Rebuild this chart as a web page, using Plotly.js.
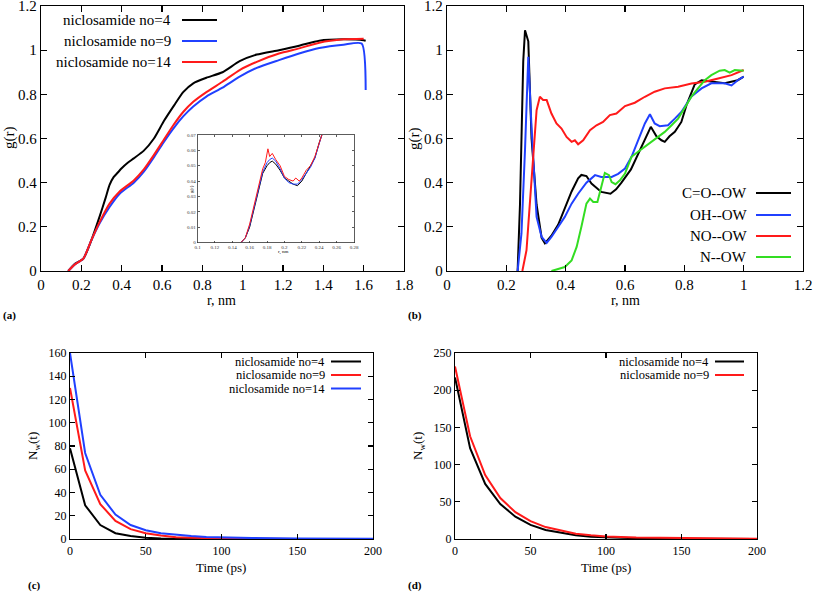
<!DOCTYPE html>
<html>
<head>
<meta charset="utf-8">
<script src="https://cdn.plot.ly/plotly-3.0.1.min.js"></script>
<style>html,body{margin:0;padding:0;background:#fff}#chart{width:815px;height:593px}</style>
</head>
<body>
<div id="chart"></div>
<script>
// ---------- Panel (a): g(r) for niclosamide clusters ----------
const aNames = ["niclosamide no=4", "niclosamide no=9", "niclosamide no=14"];
const aColors = ["#000000", "#2040ff", "#ff1a1a"];
const aR4  = [0.135,0.168,0.21,0.25,0.29,0.32,0.34,0.36,0.38,0.40,0.43,0.46,0.51,0.56,0.61,0.66,0.705,0.755,0.82,0.9,0.985,1.07,1.18,1.28,1.38,1.5,1.6,1.61];
const aG4  = [0,0.033,0.056,0.14,0.245,0.33,0.39,0.425,0.445,0.465,0.49,0.51,0.545,0.60,0.68,0.75,0.81,0.85,0.875,0.90,0.95,0.98,1.0,1.02,1.043,1.049,1.045,1.043];
const aR9  = [0.135,0.168,0.21,0.25,0.29,0.34,0.39,0.46,0.51,0.556,0.606,0.656,0.705,0.755,0.82,0.9,0.985,1.07,1.18,1.28,1.38,1.5,1.59,1.61];
const aG9  = [0,0.03,0.056,0.14,0.215,0.29,0.35,0.40,0.45,0.51,0.58,0.645,0.70,0.745,0.79,0.83,0.88,0.92,0.955,0.985,1.01,1.025,1.03,0.82];
const aR14 = [0.135,0.168,0.21,0.25,0.29,0.34,0.39,0.46,0.51,0.556,0.606,0.656,0.705,0.755,0.82,0.9,0.985,1.07,1.18,1.28,1.38,1.5,1.6];
const aG14 = [0,0.03,0.056,0.14,0.22,0.305,0.36,0.41,0.46,0.52,0.59,0.66,0.72,0.766,0.81,0.857,0.91,0.947,0.985,1.008,1.034,1.049,1.052];

// ---------- Inset of panel (a) ----------
const inR4  = [0.15,0.155,0.16,0.165,0.17,0.175,0.18,0.183,0.186,0.19,0.195,0.2,0.205,0.21,0.215,0.22,0.225,0.23,0.235,0.24,0.243];
const inG4  = [0,0.003,0.01,0.022,0.035,0.045,0.05,0.052,0.053,0.051,0.047,0.042,0.04,0.038,0.037,0.04,0.045,0.05,0.055,0.065,0.07];
const inR9  = [0.15,0.155,0.16,0.165,0.17,0.175,0.18,0.183,0.186,0.19,0.195,0.2,0.205,0.21,0.215,0.22,0.225,0.23,0.235,0.24,0.243];
const inG9  = [0,0.003,0.011,0.023,0.036,0.046,0.052,0.054,0.055,0.053,0.048,0.042,0.039,0.038,0.038,0.041,0.045,0.049,0.055,0.064,0.07];
const inR14 = [0.15,0.155,0.16,0.165,0.17,0.175,0.178,0.181,0.183,0.186,0.19,0.195,0.2,0.205,0.21,0.213,0.217,0.22,0.225,0.23,0.235,0.24,0.243];
const inG14 = [0,0.003,0.012,0.024,0.037,0.048,0.052,0.061,0.056,0.058,0.054,0.05,0.043,0.041,0.04,0.042,0.04,0.042,0.047,0.05,0.056,0.065,0.07];

// ---------- Panel (b): site g(r) ----------
const bNames = ["C=O--OW", "OH--OW", "NO--OW", "N--OW"];
const bColors = ["#000000", "#2040ff", "#ff1a1a", "#33dd22"];
const bR_CO = [0.238,0.246,0.257,0.263,0.274,0.285,0.302,0.319,0.33,0.352,0.375,0.397,0.42,0.442,0.453,0.47,0.487,0.52,0.551,0.57,0.588,0.62,0.644,0.672,0.687,0.706,0.723,0.734,0.75,0.768,0.79,0.807,0.835,0.858,0.89,0.936,0.98,1.0];
const bG_CO = [0,0.3,0.95,1.09,1.04,0.6,0.3,0.15,0.125,0.16,0.21,0.28,0.36,0.42,0.435,0.43,0.396,0.358,0.35,0.37,0.40,0.46,0.53,0.61,0.653,0.61,0.592,0.585,0.61,0.63,0.675,0.75,0.845,0.864,0.857,0.85,0.864,0.88];
const bR_OH = [0.238,0.251,0.263,0.274,0.285,0.302,0.319,0.336,0.352,0.375,0.397,0.42,0.442,0.47,0.499,0.52,0.555,0.577,0.6,0.622,0.644,0.667,0.684,0.7,0.717,0.745,0.768,0.79,0.824,0.858,0.891,0.936,0.959,0.98,1.0];
const bG_OH = [0,0.17,0.55,0.97,0.65,0.245,0.154,0.127,0.154,0.2,0.245,0.305,0.35,0.40,0.434,0.426,0.426,0.44,0.464,0.517,0.59,0.668,0.71,0.668,0.656,0.66,0.69,0.72,0.79,0.827,0.85,0.85,0.84,0.864,0.88];
const bR_NO = [0.254,0.268,0.28,0.291,0.302,0.313,0.324,0.336,0.352,0.369,0.386,0.403,0.42,0.431,0.442,0.459,0.482,0.504,0.526,0.549,0.571,0.6,0.633,0.667,0.7,0.734,0.779,0.824,0.869,0.914,0.959,1.0];
const bG_NO = [0,0.094,0.32,0.547,0.728,0.789,0.774,0.774,0.713,0.668,0.645,0.607,0.585,0.592,0.574,0.592,0.638,0.66,0.675,0.706,0.713,0.747,0.762,0.789,0.812,0.827,0.834,0.849,0.857,0.872,0.887,0.91];
const bR_N  = [0.352,0.397,0.42,0.437,0.453,0.47,0.482,0.493,0.507,0.521,0.532,0.546,0.555,0.568,0.583,0.6,0.622,0.644,0.667,0.689,0.712,0.734,0.757,0.779,0.8,0.824,0.846,0.869,0.891,0.919,0.936,0.953,0.97,1.0];
const bG_N  = [0,0.018,0.048,0.109,0.2,0.305,0.328,0.313,0.313,0.38,0.444,0.434,0.403,0.393,0.411,0.441,0.517,0.54,0.562,0.585,0.607,0.63,0.66,0.69,0.736,0.79,0.827,0.864,0.887,0.907,0.91,0.898,0.91,0.907];

// ---------- Panel (c): N_w(t) ----------
const cNames = ["niclosamide no=4", "niclosamide no=9", "niclosamide no=14"];
const cColors = ["#000000", "#ff1a1a", "#2040ff"];
const cT  = [0,10,20,30,40,50,60,70,80,90,100,120,150,200];
const cN4  = [78,29,12,5,2.5,1,0.5,0.2,0.1,0,0,0,0,0];
const cN9  = [130,59,30,15.5,8.5,5,3,1.5,1,0.7,0.5,0.3,0.1,0];
const cN14 = [160,74,38,21,12,7.5,5,3.5,2.5,1.8,1.3,0.8,0.4,0.2];

// ---------- Panel (d): N_w(t) ----------
const dNames = ["niclosamide no=4", "niclosamide no=9"];
const dColors = ["#000000", "#ff1a1a"];
const dT  = [0,10,20,30,40,50,60,70,80,90,100,120,150,200];
const dN4 = [217,122,74,47,30,19,12,8,5,3,2,1,0.5,0];
const dN9 = [232,138,86,55,36,24,16,11,7,5,3.5,2,1,0.3];

// ---------- helpers ----------
const W = 815, H = 593;
const px = x => x / W;
const py = y => 1 - y / H;
const SERIF = "Liberation Serif";

function ax(extra, fs, tl) {
  return Object.assign({
    showline: true, linecolor: "#000", linewidth: 1.2, mirror: "ticks",
    ticks: "inside", ticklen: tl, tickwidth: 1.2, tickcolor: "#000",
    showgrid: false, zeroline: false, fixedrange: true, ticklabeloverflow: "allow",
    tickfont: {family: SERIF, size: fs, color: "#000"}
  }, extra);
}

const traces = [];
function line(x, y, color, xa, ya, w, shape) {
  traces.push({x: x, y: y, type: "scatter", mode: "lines", xaxis: xa, yaxis: ya,
    line: {color: color, width: w, shape: shape || "linear", smoothing: 0.6},
    showlegend: false, hoverinfo: "skip"});
}
line(aR4, aG4, aColors[0], "x", "y", 2, "spline");
line(aR9, aG9, aColors[1], "x", "y", 2, "spline");
line(aR14, aG14, aColors[2], "x", "y", 2, "spline");
line(inR4, inG4, aColors[0], "x5", "y5", 1);
line(inR9, inG9, aColors[1], "x5", "y5", 1);
line(inR14, inG14, aColors[2], "x5", "y5", 1);
line(bR_CO, bG_CO, bColors[0], "x2", "y2", 2);
line(bR_OH, bG_OH, bColors[1], "x2", "y2", 2);
line(bR_NO, bG_NO, bColors[2], "x2", "y2", 2);
line(bR_N,  bG_N,  bColors[3], "x2", "y2", 2);
line(cT, cN4, cColors[0], "x3", "y3", 2);
line(cT, cN9, cColors[1], "x3", "y3", 2);
line(cT, cN14, cColors[2], "x3", "y3", 2);
line(dT, dN4, dColors[0], "x4", "y4", 2);
line(dT, dN9, dColors[1], "x4", "y4", 2);

const annotations = [];
const shapes = [];
function txt(x, y, text, size, opts) {
  annotations.push(Object.assign({xref: "paper", yref: "paper", x: px(x), y: py(y),
    text: text, showarrow: false, font: {family: SERIF, size: size, color: "#000"},
    xanchor: "center", yanchor: "middle", borderpad: 0}, opts || {}));
}
function legend(names, colors, textRight, x0, x1, ys, size, w) {
  names.forEach((n, i) => {
    txt(textRight, ys[i], n, size, {xanchor: "right"});
    shapes.push({type: "line", xref: "paper", yref: "paper", x0: px(x0), x1: px(x1),
      y0: py(ys[i]), y1: py(ys[i]), line: {color: colors[i], width: w}});
  });
}
legend(aNames, aColors, 172, 182, 217, [20, 41, 62], 15, 2);
legend(bNames, bColors, 748, 756, 791, [193, 215, 236, 257], 15, 2);
legend(cNames, cColors, 326, 331, 361, [361.5, 375, 388.5], 12.5, 2);
legend(dNames, dColors, 710, 715, 744, [361.5, 375], 12.5, 2);

// axis titles
txt(9, 138, "g(r)", 15, {textangle: -90});
txt(414, 138, "g(r)", 15, {textangle: -90});
txt(222, 300, "r, nm", 14);
txt(625, 300, "r, nm", 14);
txt(33, 446, "N<sub>w</sub>(t)", 13, {textangle: -90});
txt(418, 446, "N<sub>w</sub>(t)", 13, {textangle: -90});
txt(221, 567, "Time (ps)", 13);
txt(606, 567, "Time (ps)", 13);
// inset titles
txt(192, 189, "g(r)", 5, {textangle: -90});
txt(283, 252, "r, nm", 5);
// panel labels
txt(9, 315, "<b>(a)</b>", 11);
txt(415, 315, "<b>(b)</b>", 11);
txt(34, 585, "<b>(c)</b>", 11);
txt(415, 585, "<b>(d)</b>", 11);

const layout = {
  width: W, height: H, margin: {l: 0, r: 0, t: 0, b: 0},
  paper_bgcolor: "#fff", plot_bgcolor: "rgba(0,0,0,0)", showlegend: false,
  font: {family: SERIF},
  xaxis:  ax({domain: [px(41), px(404)], anchor: "y", range: [0, 1.8], dtick: 0.2, tick0: 0}, 15, 6),
  yaxis:  ax({domain: [py(271), py(6)], anchor: "x", range: [0, 1.2], dtick: 0.2, tick0: 0}, 15, 6),
  xaxis2: ax({domain: [px(447), px(803)], anchor: "y2", range: [0, 1.2], dtick: 0.2, tick0: 0}, 15, 6),
  yaxis2: ax({domain: [py(271), py(6)], anchor: "x2", range: [0, 1.2], dtick: 0.2, tick0: 0}, 15, 6),
  xaxis3: ax({domain: [px(70), px(373)], anchor: "y3", range: [0, 200], dtick: 50, tick0: 0}, 12, 5),
  yaxis3: ax({domain: [py(539), py(353)], anchor: "x3", range: [0, 160], dtick: 20, tick0: 0}, 12, 5),
  xaxis4: ax({domain: [px(455), px(757)], anchor: "y4", range: [0, 200], dtick: 50, tick0: 0}, 12, 5),
  yaxis4: ax({domain: [py(539), py(353)], anchor: "x4", range: [0, 250], dtick: 50, tick0: 0}, 12, 5),
  xaxis5: ax({domain: [px(197.5), px(354)], anchor: "y5", range: [0.1, 0.28], dtick: 0.02, tick0: 0.1, linecolor: "#333", tickcolor: "#333", linewidth: 0.8, tickwidth: 0.8}, 5, 2),
  yaxis5: ax({domain: [py(242.5), py(135)], anchor: "x5", range: [0, 0.07], dtick: 0.01, tick0: 0, linecolor: "#333", tickcolor: "#333", linewidth: 0.8, tickwidth: 0.8}, 5, 2),
  annotations: annotations,
  shapes: shapes
};
layout.xaxis5.tickfont.color = "#333";
layout.yaxis5.tickfont.color = "#333";

Plotly.newPlot("chart", traces, layout, {staticPlot: true, displayModeBar: false});
</script>
</body>
</html>
